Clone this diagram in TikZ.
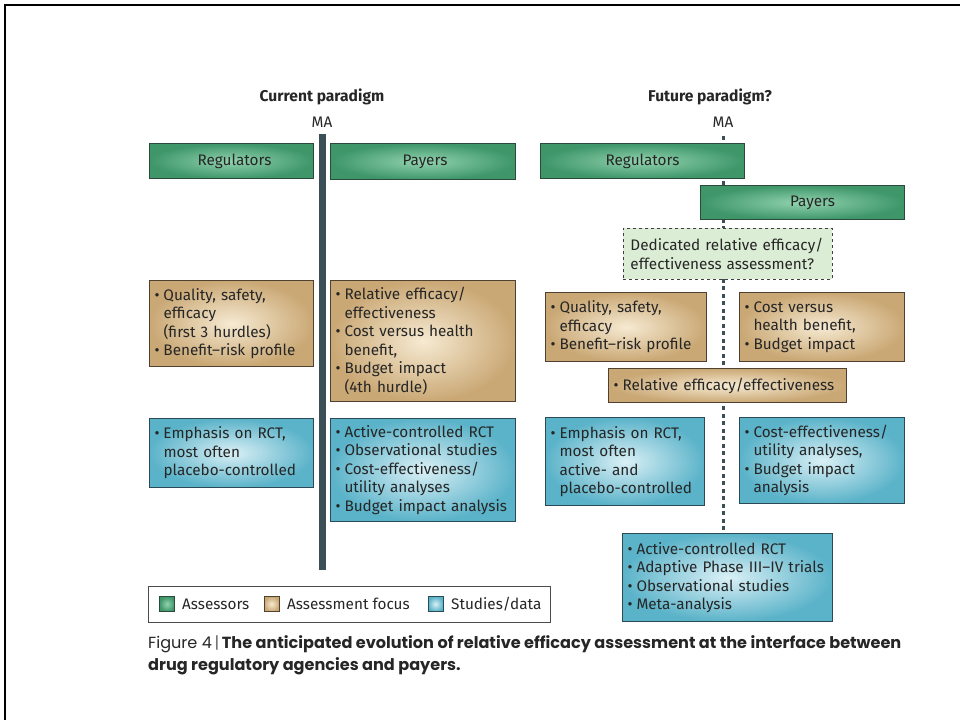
\documentclass[tikz,border=0pt]{standalone}
\usepackage{fontspec}
\setmainfont{Fira Sans}
\newfontfamily\capfont{Poppins}
\definecolor{txt}{HTML}{262626}
\definecolor{gIn}{HTML}{92D3AF}
\definecolor{gOut}{HTML}{3E9669}
\definecolor{gLine}{HTML}{2C4A3B}
\definecolor{tIn}{HTML}{F6EAD2}
\definecolor{tOut}{HTML}{CAA875}
\definecolor{tLine}{HTML}{4F4030}
\definecolor{bIn}{HTML}{DAF0F6}
\definecolor{bOut}{HTML}{5BB3C9}
\definecolor{bLine}{HTML}{2C4A55}
\definecolor{dFill}{HTML}{DCEDD6}
\definecolor{axis}{HTML}{3B4F57}
\newcommand{\bu}{\makebox[9pt][l]{•}}
\newcommand{\ind}{\hspace*{9pt}}
\newcommand{\boxfont}{\fontsize{15.3}{18.5}\selectfont}
\begin{document}
\begin{tikzpicture}[x=1pt,y=-1pt,
  base/.style={anchor=north west, line width=1pt, inner ysep=0pt,
    font=\boxfont, text=txt},
  assessor/.style={base, shade, inner color=gIn, outer color=gOut,
    draw=gLine, inner xsep=0pt, align=center},
  focus/.style={base, shade, inner color=tIn, outer color=tOut,
    draw=tLine, inner xsep=5pt, align=left},
  studies/.style={base, shade, inner color=bIn, outer color=bOut,
    draw=bLine, inner xsep=5pt, align=left},
  proposal/.style={base, fill=dFill, draw=black!75, dashed,
    line width=0.9pt, inner xsep=7pt, align=left},
  swatch/.style={minimum size=15pt, inner sep=0pt, line width=0.8pt},
  heading/.style={font=\fontsize{15.6}{18}\selectfont\bfseries, text=txt},
  plain/.style={font=\boxfont, text=txt}]
\useasboundingbox (0,0) rectangle (960,720);

% page frame (top and left rules)
\draw[line width=2.5pt, black] (960,5) -- (5,5) -- (5,720);

% ---------------- current paradigm ----------------
\node[heading] (curT) at (322,97) {Current paradigm};
\node[plain] (maL) at (322,122) {MA};
\coordinate (barEnd) at (322.5,570);
\draw[axis, line width=7pt] (322.5,134) -- (barEnd);

\node[assessor, minimum width=164pt, minimum height=35pt] (regL) at (149,143) {\hspace*{6pt}Regulators};
\node[assessor, minimum width=185pt, minimum height=36pt] (payL) at (330,143) {\hspace*{4pt}Payers};

\node[focus, text width=154pt, minimum height=86pt] (focL1) at (149,280)
  {\bu Quality, safety,\\\ind efficacy\\\ind (first 3 hurdles)\\\bu Benefit--risk profile};
\node[focus, text width=175pt, minimum height=121pt] (focL2) at (330,280)
  {\bu Relative efficacy/\\\ind effectiveness\\\bu Cost versus health\\\ind benefit,\\\bu Budget impact\\\ind (4th hurdle)};

\node[studies, text width=154pt, minimum height=69pt] (stuL1) at (149,418)
  {\bu Emphasis on RCT,\\\ind most often\\\ind placebo-controlled};
\node[studies, text width=175pt, minimum height=103pt] (stuL2) at (330,418)
  {\bu Active-controlled RCT\\\bu Observational studies\\\bu Cost-effectiveness/\\\ind utility analyses\\\bu Budget impact analysis};

% ---------------- future paradigm ----------------
\node[heading] (futT) at (710,97) {Future paradigm?};
\node[plain] (maR) at (723,122) {MA};
\coordinate (dashTop) at (723,136);
\coordinate (dashEnd) at (723,533);
\draw[axis, line width=3pt, dash pattern=on 4pt off 3.5pt] (dashTop) -- (dashEnd);

\node[assessor, minimum width=204pt, minimum height=35pt] (regR) at (540,143) {Regulators};
\node[assessor, minimum width=204pt, minimum height=34pt] (payR) at (700,185) {\hspace*{20pt}Payers};

\node[proposal, text width=195pt, minimum height=51pt] (dedR) at (623,228)
  {Dedicated relative efficacy/\\effectiveness assessment?};

\node[focus, text width=151pt, minimum height=69pt] (focR1) at (545,292)
  {\bu Quality, safety,\\\ind efficacy\\\bu Benefit--risk profile};
\node[focus, text width=155pt, minimum height=69pt] (focR2) at (739,292)
  {\bu Cost versus\\\ind health benefit,\\\bu Budget impact};
\node[focus, text width=228pt, minimum height=34pt] (focR3) at (608,368)
  {\bu Relative efficacy/effectiveness};

\node[studies, text width=149pt, minimum height=88pt] (stuR1) at (545,417)
  {\bu Emphasis on RCT,\\\ind most often\\\ind active- and\\\ind placebo-controlled};
\node[studies, text width=155pt, minimum height=86pt] (stuR2) at (739,417)
  {\bu Cost-effectiveness/\\\ind utility analyses,\\\bu Budget impact\\\ind analysis};
\node[studies, text width=200pt, minimum height=88pt] (stuR3) at (622,533)
  {\bu Active-controlled RCT\\\bu Adaptive Phase III--IV trials\\\bu Observational studies\\\bu Meta-analysis};

% ---------------- legend ----------------
\node[draw=black!70, line width=0.8pt, anchor=north west, minimum width=402pt,
  minimum height=36pt, inner sep=0pt] (legend) at (148,586) {};
\node[swatch, shade, inner color=gIn, outer color=gOut, draw=gLine] (swG) at (167,604) {};
\node[plain, anchor=west, inner xsep=0pt] (lgG) at (182,604) {Assessors};
\node[swatch, shade, inner color=tIn, outer color=tOut, draw=tLine] (swT) at (271.5,604) {};
\node[plain, anchor=west, inner xsep=0pt] (lgT) at (287,604) {Assessment focus};
\node[swatch, shade, inner color=bIn, outer color=bOut, draw=bLine] (swB) at (435.5,604) {};
\node[plain, anchor=west, inner xsep=0pt] (lgB) at (451,604) {Studies/data};

% ---------------- caption ----------------
\node[anchor=north west, inner sep=0pt, align=left, text=txt,
  font=\capfont\fontsize{16.1}{22}\selectfont] (cap) at (148,635)
  {Figure 4\,{\color{black!60}|}\,\textbf{The anticipated evolution of relative efficacy assessment at the interface between}\\
   \textbf{drug regulatory agencies and payers.}};
\end{tikzpicture}
\end{document}
